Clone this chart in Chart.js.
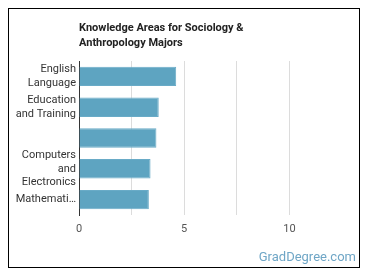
<!DOCTYPE html>
<html>
<head>
<meta charset="utf-8">
<script src="https://cdn.jsdelivr.net/npm/chart.js@4/dist/chart.umd.min.js"></script>
<style>
	body { margin:0; background:#fff; font-family: Roboto, "Noto Sans", sans-serif; }
	#wrap { position:relative; width:370px; height:278px; }
	#frame { position:absolute; left:8px; top:8px; width:350px; height:258px; border:1.5px solid #000; }
	#titulo { position:absolute; left:79px; top:20px; font-size:11px; font-weight:bold; line-height:15px; color:#222; }
	#marca { position:absolute; right:14px; top:249px; font-size:13px; color:#6fa6c6; }
	canvas { position:absolute; left:0; top:0; }
</style>
</head>
<body>
<div id="wrap">
	<div id="frame"></div>
	<canvas id="grafico" width="370" height="278"></canvas>
	<div id="titulo">Knowledge Areas for Sociology &amp;<br>Anthropology Majors</div>
	<div id="marca">GradDegree.com</div>
</div>
<script>
var categorias = [["English", "Language"], ["Education", "and Training"], "", ["Computers", "and", "Electronics"], "Mathemati…"];
var valores = [4.62, 3.79, 3.68, 3.40, 3.32];
var ticksX = [0, 5, 10];

var ctx = document.getElementById("grafico");

var chartGraph = new Chart(ctx, {
	type : 'bar',
	data : {
		labels : categorias,
		datasets : [ {
			data : valores,
			backgroundColor : '#5ea4c1',
			borderColor : '#69abc7',
			borderWidth : 1,
			barPercentage : 0.63,
			categoryPercentage : 1
		} ]
	},
	options : {
		indexAxis : 'y',
		responsive : false,
		animation : false,
		layout : { padding : { left : 8, top : 61, right : 28, bottom : 43 } },
		plugins : { legend : { display : false }, tooltip : { enabled : false } },
		scales : {
			x : {
				min : 0,
				max : 12.5,
				afterFit : function(s){ s.height = 20; },
				border : { display : false },
				grid : {
					drawTicks : false,
					color : function(c){
						var v = c.tick ? c.tick.value : 0;
						if (v === 0 || v === 12.5) return 'rgba(0,0,0,0)';
						return '#dcdcdc';
					}
				},
				ticks : {
					stepSize : 2.5,
					padding : 8,
					color : '#555',
					font : { family : 'Roboto', size : 11 },
					callback : function(v){ return ticksX.indexOf(v) >= 0 ? v : ''; }
				}
			},
			y : {
				afterFit : function(s){ s.width = 71; },
				border : { display : true, color : '#333', width : 1 },
				grid : { display : false, drawTicks : false },
				ticks : {
					autoSkip : false,
					padding : 3,
					color : '#333',
					font : { family : 'Roboto', size : 11, lineHeight : 1.25 }
				}
			}
		}
	}
});
</script>
</body>
</html>
